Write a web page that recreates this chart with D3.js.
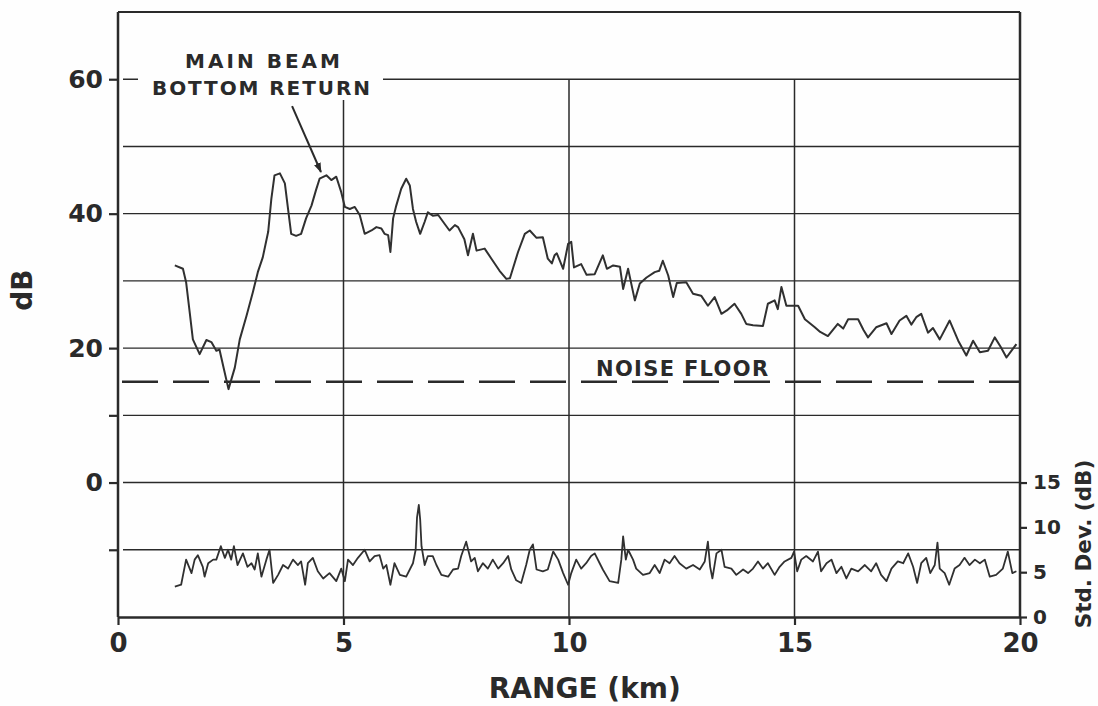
<!DOCTYPE html>
<html>
<head>
<meta charset="utf-8">
<script src="https://cdn.jsdelivr.net/npm/d3@7"></script>
<style>
  body { margin: 0; background: #fefefe; }
  svg { display: block; }
  .axis text { font-family: 'DejaVu Sans', sans-serif; font-weight: bold; fill: #2a2a2a; }
  .axis path, .axis line { stroke: #2a2a2a; }
</style>
</head>
<body>
<div id="chart"></div>
<script>
// range (km) / received level (dB)
var rangeKm = [1.26, 1.44, 1.51, 1.59, 1.66, 1.81, 1.96, 2.07, 2.18, 2.25, 2.33, 2.45, 2.59, 2.70, 2.85, 2.99,
  3.10, 3.21, 3.33, 3.40, 3.47, 3.59, 3.70, 3.77, 3.84, 3.95, 4.06, 4.17, 4.29, 4.39, 4.47, 4.62, 4.73, 4.84,
  4.95, 5.03, 5.14, 5.25, 5.36, 5.47, 5.62, 5.73, 5.84, 5.91, 5.99, 6.04, 6.10, 6.17, 6.28, 6.39, 6.47, 6.54,
  6.61, 6.70, 6.80, 6.87, 6.98, 7.10, 7.24, 7.35, 7.47, 7.54, 7.68, 7.76, 7.87, 7.95, 8.13, 8.28, 8.46, 8.61,
  8.69, 8.87, 9.02, 9.13, 9.28, 9.42, 9.53, 9.62, 9.68, 9.73, 9.87, 9.98, 10.05, 10.11, 10.27, 10.39, 10.57,
  10.75, 10.84, 10.98, 11.13, 11.20, 11.31, 11.46, 11.57, 11.72, 11.90, 12.00, 12.08, 12.20, 12.31, 12.39,
  12.60, 12.75, 12.93, 13.08, 13.23, 13.38, 13.50, 13.67, 13.82, 13.93, 14.08, 14.30, 14.41, 14.56, 14.63,
  14.71, 14.82, 15.08, 15.23, 15.45, 15.57, 15.74, 15.96, 16.08, 16.19, 16.41, 16.53, 16.63, 16.81, 17.04,
  17.15, 17.33, 17.48, 17.59, 17.70, 17.81, 17.96, 18.07, 18.22, 18.44, 18.63, 18.81, 18.96, 19.11, 19.29,
  19.44, 19.57, 19.70, 19.80, 19.92]
var levelDb = [32.3, 31.8, 29.8, 25.3, 21.3, 19.1, 21.2, 20.9, 19.6, 19.8, 17.4, 13.9, 17.1, 21.3, 24.8, 28.3,
  31.3, 33.5, 37.3, 42.2, 45.7, 46.0, 44.5, 40.7, 37.0, 36.7, 37.0, 39.3, 41.2, 43.5, 45.2, 45.7, 45.0, 45.5,
  43.2, 41.0, 40.7, 41.0, 39.8, 37.0, 37.5, 38.0, 37.8, 37.0, 36.8, 34.3, 39.3, 41.2, 43.7, 45.2, 44.2, 40.7,
  38.8, 37.0, 38.8, 40.2, 39.7, 39.8, 38.5, 37.5, 38.3, 38.0, 36.2, 33.8, 37.0, 34.5, 34.8, 33.3, 31.5, 30.3,
  30.4, 34.3, 37.0, 37.5, 36.4, 36.5, 33.3, 32.6, 33.8, 34.1, 31.8, 35.5, 35.8, 32.0, 32.5, 30.9, 31.0,
  33.8, 31.8, 32.3, 32.1, 28.8, 31.8, 27.1, 29.6, 30.5, 31.3, 31.5, 33.0, 30.8, 27.6, 29.7,
  29.8, 28.1, 27.8, 26.3, 27.6, 25.1, 25.6, 26.6, 25.1, 23.6, 23.4, 23.3, 26.6, 27.1, 25.8,
  29.1, 26.3, 26.3, 24.3, 23.1, 22.4, 21.8, 23.6, 22.9, 24.3, 24.3, 22.7, 21.6, 23.1, 23.7,
  22.1, 24.1, 24.8, 23.5, 24.6, 25.1, 22.3, 23.0, 21.3, 24.1, 21.1, 18.9, 21.1, 19.4, 19.6,
  21.6, 20.2, 18.6, 19.5, 20.6]

// range (km) / standard deviation (dB), right-hand scale
var stdKm = [1.26, 1.40, 1.51, 1.63, 1.70, 1.77, 1.88, 1.92, 2.00, 2.11, 2.18, 2.28, 2.37, 2.44, 2.51, 2.57,
  2.65, 2.77, 2.87, 2.96, 3.03, 3.10, 3.18, 3.29, 3.36, 3.44, 3.55, 3.66, 3.77, 3.88, 3.99, 4.06, 4.15, 4.21,
  4.32, 4.43, 4.55, 4.69, 4.84, 4.95, 5.03, 5.10, 5.21, 5.32, 5.47, 5.58, 5.69, 5.80, 5.88, 5.95, 6.04, 6.13,
  6.25, 6.39, 6.54, 6.60, 6.63, 6.67, 6.70, 6.73, 6.80, 6.87, 6.98, 7.06, 7.17, 7.32, 7.43, 7.54, 7.61, 7.72,
  7.83, 7.91, 7.98, 8.09, 8.20, 8.31, 8.43, 8.54, 8.65, 8.72, 8.83, 8.94, 9.05, 9.13, 9.20, 9.28, 9.42, 9.53,
  9.65, 9.76, 9.87, 9.98, 10.05, 10.16, 10.27, 10.38, 10.49, 10.57, 10.68, 10.75, 10.90, 11.09, 11.16, 11.20,
  11.26, 11.31, 11.42, 11.49, 11.64, 11.79, 11.90, 12.01, 12.12, 12.23, 12.34, 12.45, 12.60, 12.75, 12.90,
  13.01, 13.08, 13.13, 13.18, 13.27, 13.38, 13.45, 13.60, 13.71, 13.86, 13.97, 14.08, 14.19, 14.30, 14.41,
  14.56, 14.67, 14.78, 14.93, 14.99, 15.06, 15.15, 15.26, 15.41, 15.52, 15.59, 15.71, 15.82, 15.93, 16.04,
  16.15, 16.26, 16.41, 16.56, 16.70, 16.81, 16.92, 17.04, 17.15, 17.29, 17.41, 17.52, 17.63, 17.72, 17.81,
  17.92, 18.01, 18.11, 18.17, 18.22, 18.33, 18.43, 18.55, 18.66, 18.77, 18.88, 19.00, 19.11, 19.22, 19.33,
  19.47, 19.62, 19.73, 19.83, 19.92]
var stdDb = [3.4, 3.6, 6.4, 4.9, 6.4, 6.9, 5.6, 4.5, 6.0, 6.4, 6.4, 7.9, 6.6, 7.5, 6.4, 7.9,
  5.8, 7.1, 5.6, 6.0, 5.3, 7.1, 4.5, 6.4, 7.5, 3.8, 4.7, 5.8, 5.4, 6.4, 5.8, 6.2, 3.6, 6.0,
  6.6, 5.1, 4.3, 4.9, 4.0, 5.4, 4.0, 6.4, 5.8, 6.6, 7.5, 6.2, 6.8, 6.9, 5.4, 5.8, 3.6, 6.0,
  4.7, 4.5, 6.0, 7.5, 11.1, 12.5, 10.9, 7.9, 5.8, 6.8, 6.8, 5.8, 4.7, 4.5, 5.3, 5.4, 6.8, 8.4,
  6.2, 6.6, 5.1, 6.0, 5.4, 6.4, 5.4, 6.0, 6.8, 5.3, 4.1, 3.8, 5.8, 7.5, 8.1, 5.3, 5.1, 5.3,
  7.3, 6.4, 4.9, 3.6, 4.9, 6.4, 5.4, 6.0, 6.8, 7.1, 6.0, 5.3, 4.0, 3.8, 6.4, 9.0,
  6.4, 7.5, 6.4, 5.4, 4.7, 4.9, 5.8, 4.9, 6.4, 6.0, 6.8, 6.0, 5.4, 5.8, 5.3,
  6.2, 8.4, 5.6, 4.3, 7.1, 7.5, 5.6, 5.4, 4.7, 5.3, 4.9, 5.4, 6.2, 5.4, 6.0,
  4.7, 5.6, 6.2, 6.6, 7.3, 5.1, 6.4, 6.8, 6.2, 7.3, 5.1, 6.0, 6.4, 4.9, 5.6,
  4.3, 5.4, 5.1, 5.8, 5.1, 6.0, 4.7, 4.0, 5.4, 6.2, 6.0, 7.1, 5.6, 3.8, 6.0,
  6.6, 4.9, 5.8, 8.3, 5.4, 4.9, 3.6, 5.4, 5.8, 6.6, 5.8, 6.4, 6.0, 6.4, 4.5,
  4.7, 5.4, 7.3, 4.9, 5.1]

var noiseFloor = 15
var xTicks = [0, 5, 10, 15, 20]
var yTicks = [60, 40, 20, 10, 0, -10]
var yLabels = [60, 40, 20, 0]
var yGrid = [60, 50, 40, 30, 20, 10, 0, -10]
var xGrid = [5, 10, 15]
var stdTicks = [0, 5, 10, 15]
// arrow: from text to the main beam peak, [km, dB]
var arrowFrom = [3.86, 56.0]
var arrowTo = [4.50, 46.2]

var margin = {top: 12, right: 78, bottom: 89, left: 118},
    width = 1098 - margin.left - margin.right,
    height = 706 - margin.top - margin.bottom

var x = d3.scaleLinear().domain([0, 20]).range([0, width])
var y = d3.scaleLinear().domain([-20, 70]).range([height, 0])
var yStd = d3.scaleLinear().domain([0, 15]).range([y(-20), y(0)])

var svg = d3.select('#chart').append('svg')
    .attr('width', 1098)
    .attr('height', 706)
  .append('g')
    .attr('transform', 'translate(' + margin.left + ',' + margin.top + ')')

var ink = '#2a2a2a'
var font = 'DejaVu Sans, sans-serif'

// horizontal grid
svg.selectAll('.hgrid')
    .data(yGrid)
  .enter().append('line')
    .attr('x1', 5)
    .attr('x2', width)
    .attr('y1', function(d){ return y(d) })
    .attr('y2', function(d){ return y(d) })
    .attr('stroke', ink)
    .attr('stroke-width', 1.4)

// vertical grid (from the 60 dB line down)
svg.selectAll('.vgrid')
    .data(xGrid)
  .enter().append('line')
    .attr('x1', function(d){ return x(d) })
    .attr('x2', function(d){ return x(d) })
    .attr('y1', y(60))
    .attr('y2', height)
    .attr('stroke', ink)
    .attr('stroke-width', 1.5)

// top frame
svg.append('line')
    .attr('x1', 0).attr('x2', width)
    .attr('y1', 0).attr('y2', 0)
    .attr('stroke', ink)
    .attr('stroke-width', 1.8)

// blank patch behind annotation
svg.append('rect')
    .attr('x', 20).attr('y', 40)
    .attr('width', 245).attr('height', 48)
    .attr('fill', '#fefefe')

// noise floor
svg.append('line')
    .attr('x1', 4).attr('x2', width)
    .attr('y1', y(noiseFloor)).attr('y2', y(noiseFloor))
    .attr('stroke', ink)
    .attr('stroke-width', 2.5)
    .attr('stroke-dasharray', '36,15')

svg.append('text')
    .attr('x', x(10.6))
    .attr('y', y(noiseFloor) - 6)
    .attr('textLength', 172)
    .attr('lengthAdjust', 'spacing')
    .attr('font-family', font)
    .attr('font-weight', 'bold')
    .attr('font-size', '21px')
    .attr('fill', ink)
    .text('NOISE FLOOR')

// traces
var mainData = rangeKm.map(function(d, i){ return [d, levelDb[i]] })
var stdData = stdKm.map(function(d, i){ return [d, stdDb[i]] })

svg.append('path')
    .datum(mainData)
    .attr('d', d3.line().x(function(d){ return x(d[0]) }).y(function(d){ return y(d[1]) }))
    .attr('fill', 'none')
    .attr('stroke', '#303030')
    .attr('stroke-width', 2)
    .attr('stroke-linejoin', 'round')

svg.append('path')
    .datum(stdData)
    .attr('d', d3.line().x(function(d){ return x(d[0]) }).y(function(d){ return yStd(d[1]) }))
    .attr('fill', 'none')
    .attr('stroke', '#303030')
    .attr('stroke-width', 1.8)
    .attr('stroke-linejoin', 'round')

// axes
var xAxis = d3.axisBottom(x).tickValues(xTicks).tickSize(8).tickSizeOuter(0).tickPadding(9)
var yAxis = d3.axisLeft(y).tickValues(yTicks).tickSize(9).tickSizeOuter(0).tickPadding(6)
    .tickFormat(function(d){ return yLabels.indexOf(d) >= 0 ? d : '' })
var stdAxis = d3.axisRight(yStd).tickValues(stdTicks).tickSize(7).tickSizeOuter(0).tickPadding(6)

var gx = svg.append('g')
    .attr('class', 'axis')
    .attr('transform', 'translate(0,' + height + ')')
    .call(xAxis)
gx.selectAll('text').attr('font-size', '26px')

var gy = svg.append('g')
    .attr('class', 'axis')
    .call(yAxis)
gy.selectAll('text').attr('font-size', '25px')
gy.select('.domain').attr('d', 'M0,0V' + height)

var gs = svg.append('g')
    .attr('class', 'axis')
    .attr('transform', 'translate(' + width + ',0)')
    .call(stdAxis)
gs.selectAll('text').attr('font-size', '20px')
gs.select('.domain').attr('d', 'M0,0V' + height)

svg.selectAll('.axis .domain').attr('stroke-width', 2.5)
svg.selectAll('.axis .tick line').attr('stroke-width', 2.2)

// axis titles
svg.append('text')
    .attr('x', x(10.35))
    .attr('y', height + 81)
    .attr('text-anchor', 'middle')
    .attr('font-family', font)
    .attr('font-weight', 'bold')
    .attr('font-size', '28px')
    .attr('fill', ink)
    .text('RANGE (km)')

svg.append('text')
    .attr('transform', 'translate(-86,' + (290 - margin.top) + ') rotate(-90)')
    .attr('text-anchor', 'middle')
    .attr('font-family', font)
    .attr('font-weight', 'bold')
    .attr('font-size', '28px')
    .attr('fill', ink)
    .text('dB')

svg.append('text')
    .attr('transform', 'translate(' + (width + 71) + ',' + (544 - margin.top) + ') rotate(-90)')
    .attr('text-anchor', 'middle')
    .attr('font-family', font)
    .attr('font-weight', 'bold')
    .attr('font-size', '21.5px')
    .attr('fill', ink)
    .text('Std. Dev. (dB)')

// annotation
svg.append('text')
    .attr('x', 67).attr('y', 56)
    .attr('textLength', 155)
    .attr('lengthAdjust', 'spacing')
    .attr('font-family', font)
    .attr('font-weight', 'bold')
    .attr('font-size', '20px')
    .attr('fill', ink)
    .text('MAIN BEAM')

svg.append('text')
    .attr('x', 34).attr('y', 83)
    .attr('textLength', 218)
    .attr('lengthAdjust', 'spacing')
    .attr('font-family', font)
    .attr('font-weight', 'bold')
    .attr('font-size', '20px')
    .attr('fill', ink)
    .text('BOTTOM RETURN')

svg.append('defs').append('marker')
    .attr('id', 'head')
    .attr('viewBox', '0 0 10 10')
    .attr('refX', 9).attr('refY', 5)
    .attr('markerWidth', 5).attr('markerHeight', 5)
    .attr('orient', 'auto')
  .append('path')
    .attr('d', 'M0,1.5L10,5L0,8.5Z')
    .attr('fill', ink)

svg.append('line')
    .attr('x1', x(arrowFrom[0])).attr('y1', y(arrowFrom[1]))
    .attr('x2', x(arrowTo[0])).attr('y2', y(arrowTo[1]))
    .attr('stroke', ink)
    .attr('stroke-width', 2)
    .attr('marker-end', 'url(#head)')
</script>
</body>
</html>
